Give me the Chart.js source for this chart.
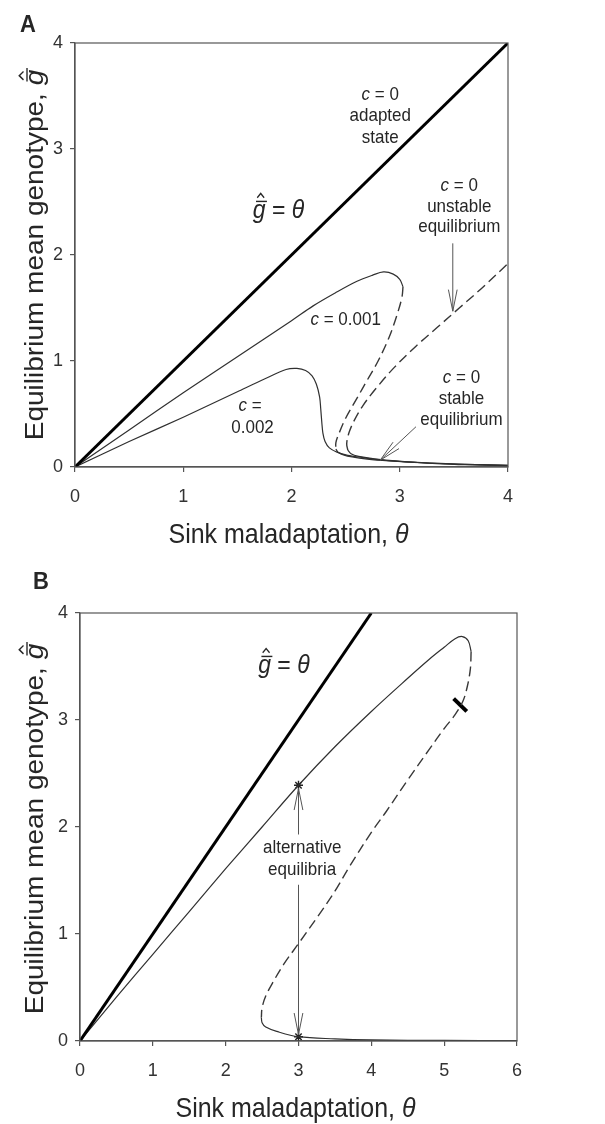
<!DOCTYPE html>
<html>
<head>
<meta charset="utf-8">
<script src="https://cdn.jsdelivr.net/npm/chart.js@4.4.0/dist/chart.umd.min.js"></script>
<style>
  body { margin: 0; background: #fff; }
  .wrap { position: absolute; left: 0; width: 605px; }
  #wrapA { top: 0; height: 560px; }
  #wrapB { top: 560px; height: 564px; }
</style>
</head>
<body>
<div class="wrap" id="wrapA"><canvas id="chartA" width="605" height="560"></canvas></div>
<div class="wrap" id="wrapB"><canvas id="chartB" width="605" height="564"></canvas></div>
<script>
"use strict";

// ---- panel A data (theta, g-hat) ----
const adaptedTheta = [0, 4];
const adaptedG = [0, 4];

const c001UpperTheta = [0, 0.5, 1, 1.5, 2, 2.2, 2.4, 2.6, 2.75, 2.85, 2.94, 3.0, 3.03];
const c001UpperG = [0, 0.35, 0.70, 1.04, 1.38, 1.52, 1.64, 1.75, 1.81, 1.84, 1.82, 1.77, 1.70];
const c001UnstableTheta = [3.03, 3.02, 2.97, 2.9, 2.8, 2.7, 2.6, 2.5, 2.44, 2.41, 2.41];
const c001UnstableG = [1.70, 1.60, 1.42, 1.22, 1.00, 0.82, 0.64, 0.46, 0.32, 0.23, 0.17];
const c001LowerTheta = [2.41, 2.43, 2.48, 2.56, 2.7, 2.9, 3.2, 3.6, 4.0];
const c001LowerG = [0.17, 0.14, 0.115, 0.095, 0.075, 0.058, 0.04, 0.025, 0.015];

const c002Theta = [0, 0.5, 1, 1.5, 1.75, 1.95, 2.05, 2.13, 2.19, 2.23, 2.26, 2.27, 2.28, 2.29, 2.31, 2.35, 2.42, 2.52, 2.65, 2.8, 3.0, 3.3, 3.6, 4.0];
const c002G = [0, 0.24, 0.47, 0.71, 0.83, 0.92, 0.93, 0.91, 0.86, 0.78, 0.66, 0.55, 0.42, 0.32, 0.24, 0.18, 0.14, 0.11, 0.09, 0.07, 0.052, 0.035, 0.022, 0.013];

const c0UnstableTheta = [2.52, 2.51, 2.53, 2.58, 2.66, 2.78, 2.95, 3.15, 3.35, 3.55, 3.75, 4.0];
const c0UnstableG = [0.16, 0.22, 0.32, 0.44, 0.58, 0.74, 0.94, 1.14, 1.32, 1.50, 1.68, 1.92];
const c0StableTheta = [2.52, 2.55, 2.62, 2.75, 2.9, 3.2, 3.6, 4.0];
const c0StableG = [0.16, 0.125, 0.10, 0.08, 0.062, 0.042, 0.026, 0.015];

// ---- panel B data ----
const adaptedBTheta = [0, 4];
const adaptedBG = [0, 4];
const upperBTheta = [0, 0.5, 1, 1.5, 2, 2.5, 3, 3.5, 4, 4.5, 4.8, 5.0, 5.15, 5.25, 5.33, 5.37];
const upperBG = [0, 0.41, 0.81, 1.21, 1.61, 2.0, 2.39, 2.75, 3.08, 3.39, 3.57, 3.68, 3.76, 3.78, 3.74, 3.64];
const unstableBTheta = [5.37, 5.36, 5.32, 5.26, 5.15, 5.0, 4.8, 4.5, 4.2, 4.0, 3.7, 3.5, 3.25, 3.0, 2.8, 2.65, 2.55, 2.5, 2.49];
const unstableBG = [3.64, 3.48, 3.32, 3.18, 3.05, 2.92, 2.73, 2.44, 2.14, 1.95, 1.63, 1.40, 1.15, 0.91, 0.72, 0.55, 0.42, 0.31, 0.22];
const lowerBTheta = [2.49, 2.5, 2.55, 2.7, 3.0, 3.5, 4.0, 5.0, 6.0];
const lowerBG = [0.22, 0.17, 0.13, 0.09, 0.04, 0.02, 0.01, 0.005, 0.003];
const markBTheta = [5.13, 5.31];
const markBG = [3.2, 3.08];
const starBTheta = [3, 3];
const starBG = [2.39, 0.04];

const FONT = "Liberation Sans";
const INK = "#262626";

function toPts(xs, ys) {
    return xs.map((x, i) => ({ x: x, y: ys[i] }));
}

function curve(xs, ys, extra) {
    return Object.assign({
        data: toPts(xs, ys),
        showLine: true,
        pointRadius: 0,
        borderColor: "#303030",
        borderWidth: 1.2,
        tension: 0.35,
        fill: false,
    }, extra || {});
}

const solidThick = { borderColor: "#000", borderWidth: 3, tension: 0 };
const dashed = { borderColor: "#383838", borderWidth: 1.4, borderDash: [10, 5] };

function axis(max, isX) {
    return {
        type: "linear",
        min: 0,
        max: max,
        ticks: {
            stepSize: 1,
            color: "#333",
            padding: isX ? 14 : 7,
            font: { family: FONT, size: 18 },
        },
        grid: { drawOnChartArea: false, drawTicks: true, tickLength: 5, color: "#555", lineWidth: 1.2 },
        border: { color: "#555", width: 1.2 },
        afterFit: (s) => {
            if (isX) s.height = 40;
            else s.width = 40;
        },
    };
}

// text made of plain / italic / bold pieces; "hat" draws the bar and hat over g
function richText(ctx, parts, x, y, size, opts) {
    opts = opts || {};
    const stretch = opts.stretch || 1.12;
    const fontOf = (p) => (p.i ? "italic " : "") + (p.b ? "bold " : "") + size + 'px "' + FONT + '"';
    const widths = parts.map((p) => {
        ctx.font = fontOf(p);
        return ctx.measureText(p.t).width;
    });
    const total = widths.reduce((a, b) => a + b, 0);
    ctx.save();
    ctx.translate(x, y);
    if (opts.rotate) {
        ctx.rotate(opts.rotate);
        ctx.scale(stretch, 1);
    } else {
        ctx.scale(1, stretch);
    }
    let cx = opts.align === "left" ? 0 : -total / 2;
    ctx.fillStyle = INK;
    ctx.strokeStyle = INK;
    ctx.textAlign = "left";
    ctx.textBaseline = "alphabetic";
    parts.forEach((p, k) => {
        ctx.font = fontOf(p);
        ctx.fillText(p.t, cx, 0);
        if (p.hat) {
            const w = widths[k];
            ctx.lineWidth = Math.max(1, size * 0.055);
            ctx.beginPath();
            ctx.moveTo(cx + size * 0.14, -size * 0.64);
            ctx.lineTo(cx + w + size * 0.06, -size * 0.64);
            ctx.stroke();
            const hc = cx + w * 0.62;
            ctx.beginPath();
            ctx.moveTo(hc - size * 0.15, -size * 0.78);
            ctx.lineTo(hc, -size * 0.95);
            ctx.lineTo(hc + size * 0.15, -size * 0.78);
            ctx.stroke();
        }
        cx += widths[k];
    });
    ctx.restore();
}

function arrow(ctx, x1, y1, x2, y2) {
    const ang = Math.atan2(y2 - y1, x2 - x1);
    const len = 22, spread = 0.2;
    ctx.save();
    ctx.strokeStyle = "#555";
    ctx.lineWidth = 1;
    ctx.beginPath();
    ctx.moveTo(x1, y1);
    ctx.lineTo(x2, y2);
    ctx.moveTo(x2 - len * Math.cos(ang - spread), y2 - len * Math.sin(ang - spread));
    ctx.lineTo(x2, y2);
    ctx.lineTo(x2 - len * Math.cos(ang + spread), y2 - len * Math.sin(ang + spread));
    ctx.stroke();
    ctx.restore();
}

const cEq = (rest) => [{ t: "c", i: true }, { t: rest }];
const gHatEqTheta = [{ t: "g", i: true, hat: true }, { t: " = " }, { t: "\u03b8", i: true }];
const xTitle = [{ t: "Sink maladaptation, " }, { t: "\u03b8", i: true }];
const yTitle = [{ t: "Equilibrium mean genotype, " }, { t: "g", i: true, hat: true }];

function annotate(cfg) {
    return {
        id: "annotate" + cfg.letter,
        afterDraw(chart) {
            const { ctx, chartArea: a, scales } = chart;
            const px = (v) => scales.x.getPixelForValue(v);
            const py = (v) => scales.y.getPixelForValue(v);

            ctx.save();
            ctx.strokeStyle = "#555";
            ctx.lineWidth = 1.2;
            ctx.strokeRect(a.left, a.top, a.right - a.left, a.bottom - a.top);
            ctx.restore();

            cfg.arrows.forEach((r) => arrow(ctx, px(r[0]), py(r[1]), px(r[2]), py(r[3])));
            cfg.labels.forEach((l) => richText(ctx, l.parts, px(l.x), py(l.y), l.size || 17));

            richText(ctx, xTitle, (a.left + a.right) / 2 - 3, a.bottom + 76, 25);
            richText(ctx, yTitle, 43, (a.top + a.bottom) / 2 + cfg.yTitleShift, 25, { rotate: -Math.PI / 2 });
            richText(ctx, [{ t: cfg.letter, b: true }], cfg.letterX, cfg.letterY, 22, { align: "left" });
        },
    };
}

const labelsA = [
    { parts: cEq(" = 0"), x: 2.82, y: 3.46 },
    { parts: [{ t: "adapted" }], x: 2.82, y: 3.26 },
    { parts: [{ t: "state" }], x: 2.82, y: 3.06 },
    { parts: gHatEqTheta, x: 1.88, y: 2.35, size: 23 },
    { parts: cEq(" = 0"), x: 3.55, y: 2.60 },
    { parts: [{ t: "unstable" }], x: 3.55, y: 2.41 },
    { parts: [{ t: "equilibrium" }], x: 3.55, y: 2.22 },
    { parts: cEq(" = 0.001"), x: 2.5, y: 1.34 },
    { parts: cEq(" = "), x: 1.64, y: 0.53 },
    { parts: [{ t: "0.002" }], x: 1.64, y: 0.32 },
    { parts: cEq(" = 0"), x: 3.57, y: 0.79 },
    { parts: [{ t: "stable" }], x: 3.57, y: 0.59 },
    { parts: [{ t: "equilibrium" }], x: 3.57, y: 0.40 },
];
const arrowsA = [
    [3.49, 2.11, 3.49, 1.47],
    [3.15, 0.38, 2.82, 0.065],
];

const labelsB = [
    { parts: gHatEqTheta, x: 2.8, y: 3.44, size: 23 },
    { parts: [{ t: "alternative" }], x: 3.05, y: 1.76 },
    { parts: [{ t: "equilibria" }], x: 3.05, y: 1.55 },
];
const arrowsB = [
    [3, 1.93, 3, 2.36],
    [3, 1.46, 3, 0.06],
];

const baseOptions = (xMax, padding) => ({
    responsive: false,
    animation: false,
    layout: { padding: padding },
    plugins: { legend: { display: false }, tooltip: { enabled: false } },
    scales: { x: axis(xMax, true), y: axis(4, false) },
});

new Chart(document.querySelector("#chartA"), {
    type: "scatter",
    data: {
        datasets: [
            curve(adaptedTheta, adaptedG, solidThick),
            curve(c001UpperTheta, c001UpperG),
            curve(c001UnstableTheta, c001UnstableG, dashed),
            curve(c001LowerTheta, c001LowerG),
            curve(c002Theta, c002G, { tension: 0.3 }),
            curve(c0UnstableTheta, c0UnstableG, dashed),
            curve(c0StableTheta, c0StableG),
        ],
    },
    options: baseOptions(4, { left: 35, right: 97, top: 43, bottom: 53 }),
    plugins: [annotate({ letter: "A", letterX: 20, letterY: 32, yTitleShift: 0, labels: labelsA, arrows: arrowsA })],
});

new Chart(document.querySelector("#chartB"), {
    type: "scatter",
    data: {
        datasets: [
            curve(adaptedBTheta, adaptedBG, solidThick),
            curve(upperBTheta, upperBG),
            curve(unstableBTheta, unstableBG, dashed),
            curve(lowerBTheta, lowerBG),
            curve(markBTheta, markBG, { borderColor: "#000", borderWidth: 4, tension: 0 }),
            {
                data: toPts(starBTheta, starBG),
                showLine: false,
                pointStyle: "star",
                pointRadius: 4.5,
                borderColor: "#222",
                borderWidth: 1.4,
            },
        ],
    },
    options: baseOptions(6, { left: 40, right: 88, top: 53, bottom: 43 }),
    plugins: [annotate({ letter: "B", letterX: 33, letterY: 29, yTitleShift: 2, labels: labelsB, arrows: arrowsB })],
});
</script>
</body>
</html>
